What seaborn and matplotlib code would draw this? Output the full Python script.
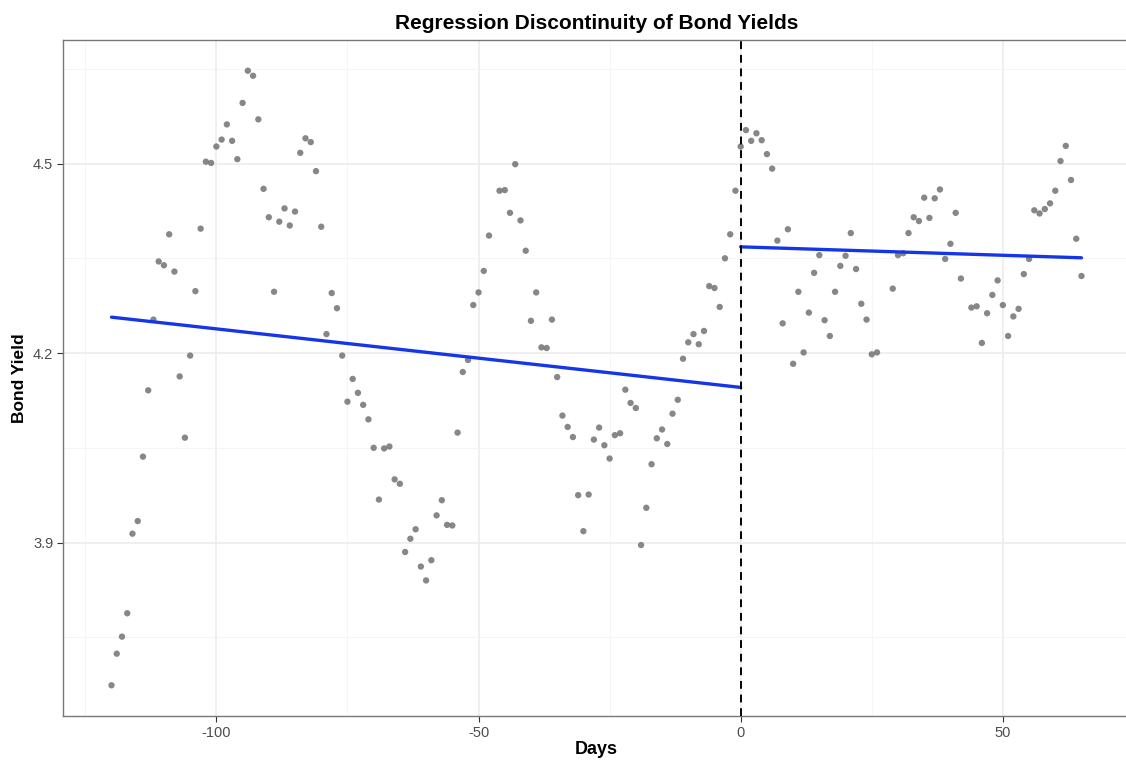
import numpy as np
import pandas as pd
import matplotlib
matplotlib.use("Agg")
import matplotlib.pyplot as plt
import seaborn as sns
from matplotlib.ticker import MultipleLocator

# ---- data ----
days_left = [-120, -119, -118, -117, -116, -115, -114, -113, -112, -111, -110, -109,
             -108, -107, -106, -105, -104, -103, -102, -101, -100, -99, -98, -97,
             -96, -95, -94, -93, -92, -91, -90, -89, -88, -87, -86, -85, -84, -83,
             -82, -81, -80, -79, -78, -77, -76, -75, -74, -73, -72, -71, -70, -69,
             -68, -67, -66, -65, -64, -63, -62, -61, -60, -59, -58, -57, -56, -55,
             -54, -53, -52, -51, -50, -49, -48, -46, -45, -44, -43, -42, -41, -40,
             -39, -38, -37, -36, -35, -34, -33, -32, -31, -30, -29, -28, -27, -26,
             -25, -24, -23, -22, -21, -20, -19, -18, -17, -16, -15, -14, -13, -12,
             -11, -10, -9, -8, -7, -6, -5, -4, -3, -2, -1]
yield_left = [3.674, 3.724, 3.751, 3.788, 3.914, 3.934, 4.036, 4.141, 4.253, 4.345, 4.339, 4.388,
              4.329, 4.163, 4.066, 4.196, 4.298, 4.397, 4.503, 4.501, 4.527, 4.538, 4.562, 4.536,
              4.507, 4.596, 4.647, 4.639, 4.570, 4.460, 4.415, 4.297, 4.408, 4.429, 4.402, 4.424,
              4.517, 4.540, 4.534, 4.488, 4.400, 4.230, 4.295, 4.271, 4.196, 4.123, 4.159, 4.137,
              4.118, 4.095, 4.050, 3.968, 4.049, 4.052, 4.000, 3.993, 3.885, 3.906, 3.921, 3.862,
              3.840, 3.872, 3.943, 3.967, 3.928, 3.927, 4.074, 4.170, 4.189, 4.276, 4.296, 4.330,
              4.386, 4.457, 4.458, 4.422, 4.499, 4.410, 4.362, 4.251, 4.296, 4.209, 4.208, 4.253,
              4.162, 4.101, 4.083, 4.067, 3.975, 3.918, 3.976, 4.063, 4.082, 4.054, 4.033, 4.070,
              4.073, 4.142, 4.121, 4.113, 3.896, 3.955, 4.024, 4.065, 4.079, 4.056, 4.104, 4.126,
              4.191, 4.217, 4.230, 4.214, 4.235, 4.306, 4.303, 4.273, 4.350, 4.388, 4.457]

days_right = [0, 1, 2, 3, 4, 5, 6, 7, 8, 9, 10, 11, 12, 13, 14, 15, 16, 17, 18, 19, 20,
              21, 22, 23, 24, 25, 26, 29, 30, 31, 32, 33, 34, 35, 36, 37, 38, 39, 40, 41,
              42, 44, 45, 46, 47, 48, 49, 50, 51, 52, 53, 54, 55, 56, 57, 58, 59, 60, 61,
              62, 63, 64, 65]
yield_right = [4.527, 4.553, 4.536, 4.548, 4.537, 4.515, 4.492, 4.378, 4.247, 4.396, 4.183,
               4.297, 4.201, 4.264, 4.327, 4.355, 4.252, 4.227, 4.297, 4.338, 4.354, 4.390,
               4.333, 4.278, 4.253, 4.198, 4.201, 4.302, 4.355, 4.358, 4.390, 4.415, 4.409,
               4.446, 4.414, 4.445, 4.459, 4.349, 4.373, 4.422, 4.318, 4.272, 4.274, 4.216,
               4.263, 4.292, 4.315, 4.276, 4.227, 4.258, 4.270, 4.325, 4.349, 4.426, 4.421,
               4.428, 4.437, 4.457, 4.504, 4.528, 4.474, 4.381, 4.322]

cutoff = 0

df = pd.DataFrame({
    "Days": days_left + days_right,
    "Yield": yield_left + yield_right,
})

# linear fits on each side of the cutoff
bl = np.polyfit(days_left, yield_left, 1)
br = np.polyfit(days_right, yield_right, 1)
fit_left = pd.DataFrame({"Days": [min(days_left), cutoff]})
fit_left["Yield"] = np.polyval(bl, fit_left["Days"])
fit_right = pd.DataFrame({"Days": [cutoff, max(days_right)]})
fit_right["Yield"] = np.polyval(br, fit_right["Days"])

# ---- plot ----
sns.set_theme(style="white")
plt.rcParams["font.family"] = ["Liberation Sans", "DejaVu Sans"]

fig = plt.figure(figsize=(11.26, 7.6), dpi=100)
# panel extends slightly past the right edge of the canvas, as in the reference
ax = fig.add_axes([63 / 1126, 44 / 760, 1067 / 1126, 676 / 760])

sns.scatterplot(data=df, x="Days", y="Yield", ax=ax, color="#777777", alpha=0.88,
                s=21, edgecolor="none", zorder=3)
sns.lineplot(data=fit_left, x="Days", y="Yield", ax=ax, color="#1536e8", lw=2.4, zorder=4)
sns.lineplot(data=fit_right, x="Days", y="Yield", ax=ax, color="#1536e8", lw=2.4, zorder=4)
ax.axvline(cutoff, color="black", ls=(0, (4, 3)), lw=1.4, zorder=5)

xr = max(days_right) - min(days_left)
ax.set_xlim(min(days_left) - 0.05 * xr, max(days_right) + 0.05 * xr)
ally = yield_left + yield_right
yr = max(ally) - min(ally)
ax.set_ylim(min(ally) - 0.05 * yr, max(ally) + 0.05 * yr)

ax.xaxis.set_major_locator(MultipleLocator(50))
ax.xaxis.set_minor_locator(MultipleLocator(25))
ax.yaxis.set_major_locator(MultipleLocator(0.3))
ax.yaxis.set_minor_locator(MultipleLocator(0.15))
ax.set_xticks([-100, -50, 0, 50])
ax.set_xticklabels(["-100", "-50", "0", "50"])
ax.set_yticks([3.9, 4.2, 4.5])
ax.set_yticklabels(["3.9", "4.2", "4.5"])

ax.grid(which="major", color="#ebebeb", lw=1.1, zorder=0)
ax.grid(which="minor", color="#f4f4f4", lw=0.6, zorder=0)
ax.set_axisbelow(True)
for sp in ax.spines.values():
    sp.set_color("#777777")
    sp.set_linewidth(1.0)

ax.tick_params(axis="both", which="major", length=4, width=0.8, color="#333333",
               labelsize=10.5, labelcolor="#4d4d4d", pad=3, bottom=True, left=True)
ax.tick_params(axis="both", which="minor", length=0)

ax.set_xlabel("Days", fontsize=13, fontweight="bold", color="black", labelpad=1)
ax.set_ylabel("Bond Yield", fontsize=12.5, fontweight="bold", color="black", labelpad=4)
ax.set_title("Regression Discontinuity of Bond Yields", fontsize=15, fontweight="bold",
             color="black", pad=8)

fig.savefig("out.png", dpi=100)
